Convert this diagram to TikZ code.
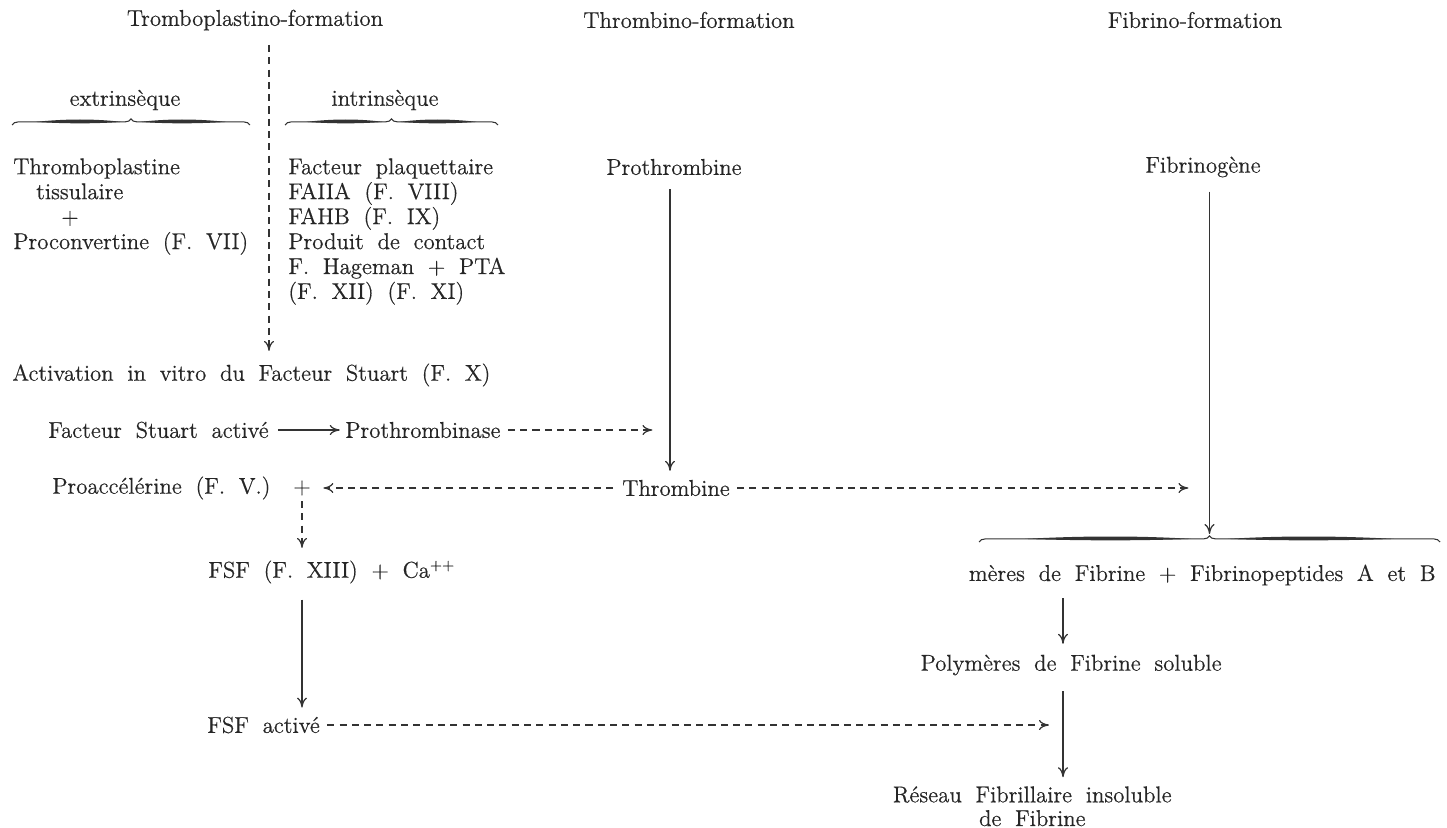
\documentclass[tikz,border=0pt]{standalone}
\usepackage{fontspec}
\usepackage{tikz}
\usetikzlibrary{positioning,arrows.meta,calc,decorations.pathreplacing}

\newfontfamily\printserif{lmroman12-regular}[Extension=.otf, FakeBold=0.5]
\newcommand\diagfont{\printserif\fontsize{13}{14.2}\selectfont\spaceskip=0.6em plus 0.1em\relax}

% brace with thick swells: left x, right x, y
\newcommand\calbrace[3]{%
  \draw[bracebar] (#1,#3) -- (#2,#3);
  \pgfmathsetmacro\bhalf{(#2-#1)/2}
  \fill[black!80] ({#1+0.2*\bhalf},#3-3.1) .. controls ({#1+0.45*\bhalf},#3-6.3) and ({#1+0.7*\bhalf},#3-6.3) .. ({#1+0.92*\bhalf},#3-3.1) .. controls ({#1+0.7*\bhalf},#3-1.2) and ({#1+0.45*\bhalf},#3-1.2) .. cycle;
  \fill[black!80] ({#2-0.2*\bhalf},#3-3.1) .. controls ({#2-0.45*\bhalf},#3-6.3) and ({#2-0.7*\bhalf},#3-6.3) .. ({#2-0.92*\bhalf},#3-3.1) .. controls ({#2-0.7*\bhalf},#3-1.2) and ({#2-0.45*\bhalf},#3-1.2) .. cycle;
}

\begin{document}
\begin{tikzpicture}[
    x=0.02cm, y=-0.02cm,
    every node/.style={font=\diagfont, inner sep=0pt, text=black!85},
    item/.style={anchor=west},
    block/.style={anchor=north west, align=left},
    flow/.style={-{To[length=2mm,width=2mm]}, line width=0.7pt, black!80},
    dflow/.style={flow, dash pattern=on 4pt off 3pt},
    bracebar/.style={decorate, decoration={brace, amplitude=3.5pt}, line width=0.6pt, black!80}
]
\useasboundingbox (0,0) rectangle (1447,828);

% column titles
\node (thromboT) at (255,20) {Tromboplastino-formation};
\node (thrombinT) at (689,20) {Thrombino-formation};
\node (fibrinoT) at (1195,20) {Fibrino-formation};

% extrinsic / intrinsic pathways
\node (extr) at (125,100) {extrinsèque};
\node (intr) at (385,100) {intrinsèque};
\calbrace{12}{250}{125}
\calbrace{285}{498}{125}

\node[block] (extrList) at (13,158) {Thromboplastine\\\hspace{1em}tissulaire\\\hspace{2.1em}+\\Proconvertine (F. VII)};
\node[block] (intrList) at (288,158) {Facteur plaquettaire\\FAIIA (F. VIII)\\FAHB (F. IX)\\Produit de contact\\F. Hageman + PTA\\(F. XII) (F. XI)};

\node (prothr) at (674,167) {Prothrombine};
\node (fibrinog) at (1203,167) {Fibrinogène};

\node[item] (activ) at (12,375) {Activation in vitro du Facteur Stuart (F. X)};
\coordinate (splitTop) at (269,45);
\draw[dflow, shorten >=7pt] (splitTop) -- (splitTop |- activ.north);

% prothrombinase
\node[item] (stuart) at (48,430) {Facteur Stuart activé};
\node[item] (prothrbase) at (345,430) {Prothrombinase};
\draw[flow, shorten <=5pt, shorten >=3pt] (stuart.east) -- (prothrbase.west);

% thrombine
\coordinate (colA) at (670,0);
\node[item] (proacc) at (52,488) {Proaccélérine (F. V.)};
\node (plusV) at (302,488) {+};
\node (thrombine) at (676,488) {Thrombine};
\draw[flow, shorten <=8pt, shorten >=5pt] (colA |- prothr.south) -- (colA |- thrombine.north);
\draw[dflow, shorten <=4pt, shorten >=10pt] (prothrbase.east) -- (prothrbase.east -| colA);
\draw[dflow, shorten <=5pt, shorten >=7pt] (thrombine.west) -- (plusV.east);

% FSF
\node[item] (fsf) at (208,572) {FSF (F. XIII) + Ca\textsuperscript{++}};
\node[item] (fsfa) at (207,725) {FSF activé};
\draw[dflow, shorten <=3pt, shorten >=7pt] (plusV.south) -- (plusV.south |- fsf.north);
\draw[flow, shorten <=9pt, shorten >=5pt] (plusV.south |- fsf.south) -- (plusV.south |- fsfa.north);

% fibrine
\node[anchor=east] (mono) at (1436,575) {mères de Fibrine + Fibrinopeptides A et B};
\calbrace{979}{1440}{542}
\coordinate (mTip) at (1209.5,534);
\draw[flow, shorten <=8pt] (fibrinog.south -| mTip) -- (mTip);
\draw[dflow, shorten <=4pt, shorten >=12pt] (thrombine.east) -- (thrombine.east -| mTip);

\coordinate (colB) at (1063,0);
\node[anchor=east] (poly) at (1222,665) {Polymères de Fibrine soluble};
\node[anchor=north east, align=center, font={\diagfont\fontsize{13}{13.5}\selectfont}] (reseau) at (1172,786) {Réseau Fibrillaire insoluble\\de Fibrine};
\draw[flow, shorten <=7pt, shorten >=6pt] (colB |- mono.south) -- (colB |- poly.north);
\draw[flow, shorten <=9pt, shorten >=5pt] (colB |- poly.south) -- (colB |- reseau.north);
\draw[dflow, shorten <=4pt, shorten >=8pt] (fsfa.east) -- (fsfa.east -| colB);

\end{tikzpicture}
\end{document}
